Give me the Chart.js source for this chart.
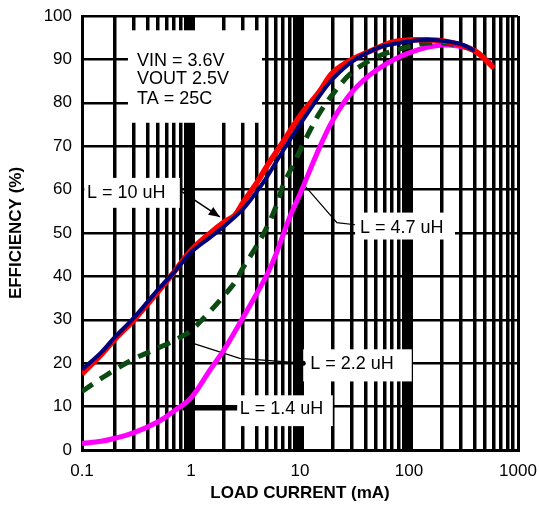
<!DOCTYPE html>
<html lang="en">
<head>
  <meta charset="UTF-8">
  <title>Efficiency vs Load Current</title>
  <script src="https://cdn.jsdelivr.net/npm/chart.js"></script>
  <style>
    html, body { margin: 0; padding: 0; background: #fff; }
  </style>
</head>
<body>
<canvas id="effChart" width="539" height="507"></canvas>

<script>
  // load current (mA) and efficiency (%)
  const loadL10 = [0.1, 0.15, 0.2, 0.3, 0.5, 0.7, 1, 1.5, 2, 2.5, 3, 4, 5, 7, 10, 15, 20, 30, 50, 70, 100, 150, 200, 300, 400, 500, 600];
  const effL10  = [17.5, 22, 25.5, 30, 36.5, 41, 46, 50, 52.5, 54, 57, 61.5, 65.5, 71, 77, 82.5, 87, 90, 92.5, 94, 94.5, 94.5, 94.3, 93.3, 92, 90, 88];

  const loadL47 = [0.1, 0.15, 0.2, 0.3, 0.5, 0.7, 1, 1.5, 2, 3, 4, 5, 7, 10, 15, 20, 30, 50, 70, 100, 150, 200, 300, 400];
  const effL47  = [18.5, 22.5, 26, 30.5, 37, 41, 45.5, 49, 51.5, 55.5, 59.5, 63, 69, 75, 81.5, 85.5, 89.5, 92.5, 93.5, 94.2, 94.5, 94.3, 93.5, 92];

  const loadL22 = [0.1, 0.15, 0.2, 0.3, 0.5, 0.8, 1, 1.5, 2, 2.5, 3, 4, 5, 6, 7, 8, 10, 12, 15, 20, 30, 50, 80, 150, 280, 400, 500];
  const effL22  = [13.5, 16.5, 18.5, 21, 23.5, 26, 27.5, 32, 35.5, 38.5, 42, 47, 51.5, 56, 61, 64, 69, 73, 77.5, 82, 87, 90.5, 92.3, 93.8, 93.3, 92, 90.5];

  const loadL14 = [0.1, 0.15, 0.2, 0.3, 0.5, 0.7, 1, 1.5, 2, 3, 4, 5, 6, 8, 10, 15, 20, 30, 50, 100, 200, 350, 450, 580];
  const effL14  = [1.5, 2, 2.7, 4, 6.5, 9, 12, 18.5, 23, 30.5, 36, 40.5, 45, 53.5, 59, 69.5, 76, 82.5, 87.5, 91.5, 93.3, 92.6, 91, 88.5];

  const xTickLabels = ["0.1", "1", "10", "100", "1000"];
  const yTicks = [0, 10, 20, 30, 40, 50, 60, 70, 80, 90, 100];

  // label boxes: [xMin, xMax, yTop, yBottom] in mA / %
  const notes = [
    { box: [0.264, 4.48, 96.7, 75.4], lines: [["VIN = 3.6V", 0.32, 89.6], ["VOUT 2.5V", 0.32, 85.4], ["TA = 25C", 0.32, 80.8]] },
    { box: [0.105, 0.79, 62.7, 55.8], lines: [["L = 10 uH", 0.111, 59.3]] },
    { box: [32, 264, 54.7, 48.5], lines: [["L = 4.7 uH", 35.5, 51.2]] },
    { box: [10.7, 106, 23.2, 15.8], lines: [["L = 2.2 uH", 12.4, 19.7]] },
    { box: [2.65, 20, 12.6, 5.5], lines: [["L = 1.4 uH", 2.8, 9.4]] }
  ];

  const leaders = [
    { pts: [[0.83, 59.5], [1.84, 53.7]], width: 1.5, end: "arrow" },
    { pts: [[10.7, 61.3], [21.8, 52.4], [32, 51.9]], width: 1.2 },
    { pts: [[0.98, 24.8], [2.8, 21.1], [10.7, 20]], width: 1.2, end: "dot" },
    { pts: [[0.84, 9.7], [2.65, 9.7]], width: 5 }
  ];

  const xGrid = [];
  [0.1, 1, 10, 100].forEach(d => {
    for (let k = 1; k <= 9; k++) xGrid.push(+(d * k).toPrecision(3));
  });
  xGrid.push(1000);

  function isDecade(v) {
    const l = Math.log10(v);
    return Math.abs(l - Math.round(l)) < 1e-6;
  }

  function toPoints(xs, ys) {
    return xs.map((v, i) => ({ x: v, y: ys[i] }));
  }

  const notePlugin = {
    id: "notes",
    beforeDatasetsDraw(chart) {
      const { ctx, scales: { x, y } } = chart;
      ctx.save();
      notes.forEach(n => {
        const l = x.getPixelForValue(n.box[0]), r = x.getPixelForValue(n.box[1]);
        const t = y.getPixelForValue(n.box[2]), b = y.getPixelForValue(n.box[3]);
        ctx.fillStyle = "#fff";
        ctx.fillRect(l, t, r - l, b - t);
        ctx.fillStyle = "#000";
        ctx.font = '18px "Liberation Sans", Arial, sans-serif';
        ctx.textBaseline = "middle";
        ctx.textAlign = "left";
        n.lines.forEach(([s, tx, ty]) => ctx.fillText(s, x.getPixelForValue(tx), y.getPixelForValue(ty)));
      });

      ctx.strokeStyle = "#000";
      ctx.fillStyle = "#000";
      leaders.forEach(ld => {
        const p = ld.pts.map(([a, c]) => [x.getPixelForValue(a), y.getPixelForValue(c)]);
        ctx.lineWidth = ld.width;
        ctx.beginPath();
        ctx.moveTo(p[0][0], p[0][1]);
        p.slice(1).forEach(q => ctx.lineTo(q[0], q[1]));
        ctx.stroke();
        const last = p[p.length - 1], prev = p[p.length - 2];
        if (ld.end === "arrow") {
          const ang = Math.atan2(last[1] - prev[1], last[0] - prev[0]);
          ctx.beginPath();
          ctx.moveTo(last[0], last[1]);
          ctx.lineTo(last[0] - 12 * Math.cos(ang - 0.4), last[1] - 12 * Math.sin(ang - 0.4));
          ctx.lineTo(last[0] - 12 * Math.cos(ang + 0.4), last[1] - 12 * Math.sin(ang + 0.4));
          ctx.closePath();
          ctx.fill();
        } else if (ld.end === "dot") {
          ctx.beginPath();
          ctx.arc(last[0], last[1], 2.5, 0, Math.PI * 2);
          ctx.fill();
        }
      });
      ctx.restore();
    }
  };

  new Chart(document.getElementById("effChart"), {
    type: "line",
    data: {
      datasets: [
        { label: "L = 4.7 uH", data: toPoints(loadL47, effL47), borderColor: "#00007a", borderWidth: 4 },
        { label: "L = 10 uH", data: toPoints(loadL10, effL10), borderColor: "#ff0000", borderWidth: 5.5 },
        { label: "L = 2.2 uH", data: toPoints(loadL22, effL22), borderColor: "#0b4a12", borderWidth: 5, borderDash: [13, 9] },
        { label: "L = 1.4 uH", data: toPoints(loadL14, effL14), borderColor: "#ff00ff", borderWidth: 5 }
      ]
    },
    options: {
      responsive: false,
      animation: false,
      layout: { padding: { left: 0, right: 21, top: 16, bottom: 0 } },
      elements: {
        point: { radius: 0 },
        line: { tension: 0.35, fill: false }
      },
      plugins: {
        legend: { display: false },
        tooltip: { enabled: false }
      },
      scales: {
        x: {
          type: "logarithmic",
          min: 0.1,
          max: 1000,
          afterFit: s => { s.height = 57; s.paddingLeft = 0; s.paddingRight = 0; },
          afterBuildTicks: s => { s.ticks = xGrid.map(v => ({ value: v })); },
          grid: {
            color: "#000",
            drawTicks: false,
            lineWidth: c => {
              const v = c.tick ? c.tick.value : 0.1;
              if (v === 0.1 || v === 1000) return 3;
              return isDecade(v) ? 8 : 3.5;
            }
          },
          border: { color: "#000", width: 3 },
          ticks: {
            autoSkip: false,
            maxRotation: 0,
            padding: 11,
            color: "#000",
            font: { family: '"Liberation Sans", Arial, sans-serif', size: 17 },
            callback: v => {
              const i = [0.1, 1, 10, 100, 1000].findIndex(d => Math.abs(d - v) < 1e-9);
              return i >= 0 ? xTickLabels[i] : "";
            }
          },
          title: {
            display: true,
            text: "LOAD CURRENT (mA)",
            color: "#000",
            padding: { top: 0, bottom: 3 },
            font: { family: '"Liberation Sans", Arial, sans-serif', size: 17, weight: "bold" }
          }
        },
        y: {
          min: 0,
          max: 100,
          afterFit: s => { s.width = 82; s.paddingTop = 0; s.paddingBottom = 0; },
          afterBuildTicks: s => { s.ticks = yTicks.map(v => ({ value: v })); },
          grid: { color: "#000", lineWidth: 2.5, drawTicks: false },
          border: { color: "#000", width: 3 },
          ticks: {
            padding: 10,
            color: "#000",
            font: { family: '"Liberation Sans", Arial, sans-serif', size: 17 }
          },
          title: {
            display: true,
            text: "EFFICIENCY (%)",
            color: "#000",
            padding: { top: 6, bottom: 0 },
            font: { family: '"Liberation Sans", Arial, sans-serif', size: 17, weight: "bold" }
          }
        }
      }
    },
    plugins: [notePlugin]
  });
</script>
</body>
</html>
